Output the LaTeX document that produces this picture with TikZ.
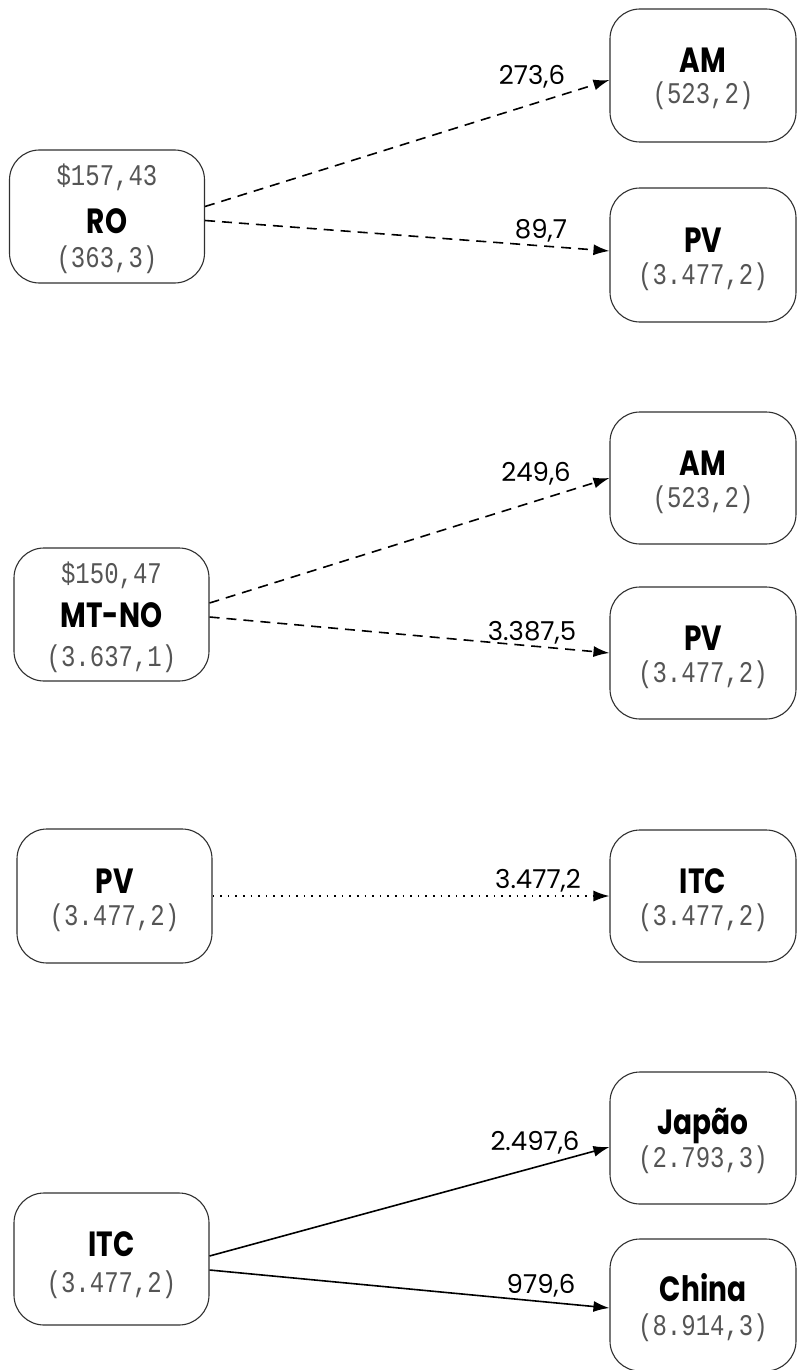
\documentclass[tikz,border=0pt]{standalone}
\usepackage{fontspec}
\setmainfont{Poppins}
\newfontfamily\numfont[FakeStretch=0.8]{Liberation Mono}
\newfontfamily\ttlfont[FakeStretch=0.8]{Poppins}
\usetikzlibrary{arrows.meta}
\definecolor{numgray}{HTML}{555555}
\definecolor{boxgray}{HTML}{303030}
\tikzset{
  box/.style={draw=boxgray, line width=1.1pt, rounded corners=30pt, minimum height=133pt, inner sep=0pt},
  lbox/.style={box, minimum width=195pt},
  rbox/.style={box, minimum width=186pt},
  num/.style={anchor=base, inner sep=0pt, text=numgray, font=\fontsize{30}{32}\selectfont\numfont},
  ttl/.style={anchor=base, inner sep=0pt, font=\fontsize{35}{37}\selectfont\ttlfont\bfseries},
  elab/.style={anchor=base, inner sep=0pt, font=\fontsize{26}{28}\selectfont},
  conn/.style={line width=1.6pt, -{Latex[length=16pt,width=11pt]}},
  dashconn/.style={conn, dash pattern=on 10pt off 7pt},
  dotconn/.style={conn, line width=1.6pt, dash pattern=on 1.6pt off 6pt}
}
\begin{document}
\begin{tikzpicture}[x=1pt,y=-1pt]
\useasboundingbox (0,0) rectangle (797,1370);
\fill[white] (0,0) rectangle (797,1370);
% Row 1
\node[lbox] (RO) at (107,216.5) {};
\node[num] (RO1) at (107,185) {\$157,43};
\node[ttl] (RO2) at (107,233) {RO};
\node[num] (RO3) at (107,267) {(363,3)};
\node[rbox, minimum height=133pt] (AMa) at (703,75.5) {};
\node[ttl] (AMa1) at (703,72.5) {AM};
\node[num] (AMa2) at (703,104) {(523,2)};
\node[rbox, minimum height=134pt] (PVa) at (703,255) {};
\node[ttl] (PVa1) at (703,252) {PV};
\node[num] (PVa2) at (703,284) {(3.477,2)};
\draw[dashconn] ([yshift=10pt]RO.east) -- ([yshift=-4.5pt]AMa.west);
\draw[dashconn] ([yshift=-4pt]RO.east) -- ([yshift=4pt]PVa.west);
\node[elab] (la) at (532,85) {273,6};
\node[elab] (lb) at (541,238) {89,7};
% Row 2
\node[lbox] (MT) at (111.5,614.5) {};
\node[num] (MT1) at (111.5,583) {\$150,47};
\node[ttl] (MT2) at (111.5,627) {MT-NO};
\node[num] (MT3) at (111.5,666) {(3.637,1)};
\node[rbox, minimum height=132pt] (AMb) at (703,478) {};
\node[ttl] (AMb1) at (703,475) {AM};
\node[num] (AMb2) at (703,507) {(523,2)};
\node[rbox, minimum height=132pt] (PVb) at (703,653) {};
\node[ttl] (PVb1) at (703,650) {PV};
\node[num] (PVb2) at (703,682) {(3.477,2)};
\draw[dashconn] ([yshift=11.5pt]MT.east) -- (AMb.west);
\draw[dashconn] ([yshift=-2.5pt]MT.east) -- (PVb.west);
\node[elab] (lc) at (536,481) {249,6};
\node[elab] (ld) at (532,640) {3.387,5};
% Row 3
\node[lbox, minimum height=134pt] (PVL) at (114.5,896) {};
\node[ttl] (PVL1) at (114.5,893) {PV};
\node[num] (PVL2) at (114.5,925) {(3.477,2)};
\node[rbox, minimum height=132pt] (ITCa) at (703,896) {};
\node[ttl] (ITCa1) at (703,893) {ITC};
\node[num] (ITCa2) at (703,925) {(3.477,2)};
\draw[dotconn] (PVL.east) -- (ITCa.west);
\node[elab] (le) at (538,888) {3.477,2};
% Row 4
\node[lbox, minimum height=132pt] (ITCb) at (111.5,1259) {};
\node[ttl] (ITCb1) at (111.5,1256) {ITC};
\node[num] (ITCb2) at (111.5,1292) {(3.477,2)};
\node[rbox, minimum height=132pt] (JP) at (703,1138) {};
\node[ttl] (JP1) at (703,1134) {Japão};
\node[num] (JP2) at (703,1167) {(2.793,3)};
\node[rbox, minimum height=132pt] (CN) at (703,1305) {};
\node[ttl] (CN1) at (703,1301) {China};
\node[num] (CN2) at (703,1335) {(8.914,3)};
\draw[conn] ([yshift=3pt]ITCb.east) -- ([yshift=-9pt]JP.west);
\draw[conn] ([yshift=-11pt]ITCb.east) -- ([yshift=-3pt]CN.west);
\node[elab] (lf) at (535,1150) {2.497,6};
\node[elab] (lg) at (541,1293) {979,6};
\end{tikzpicture}
\end{document}
